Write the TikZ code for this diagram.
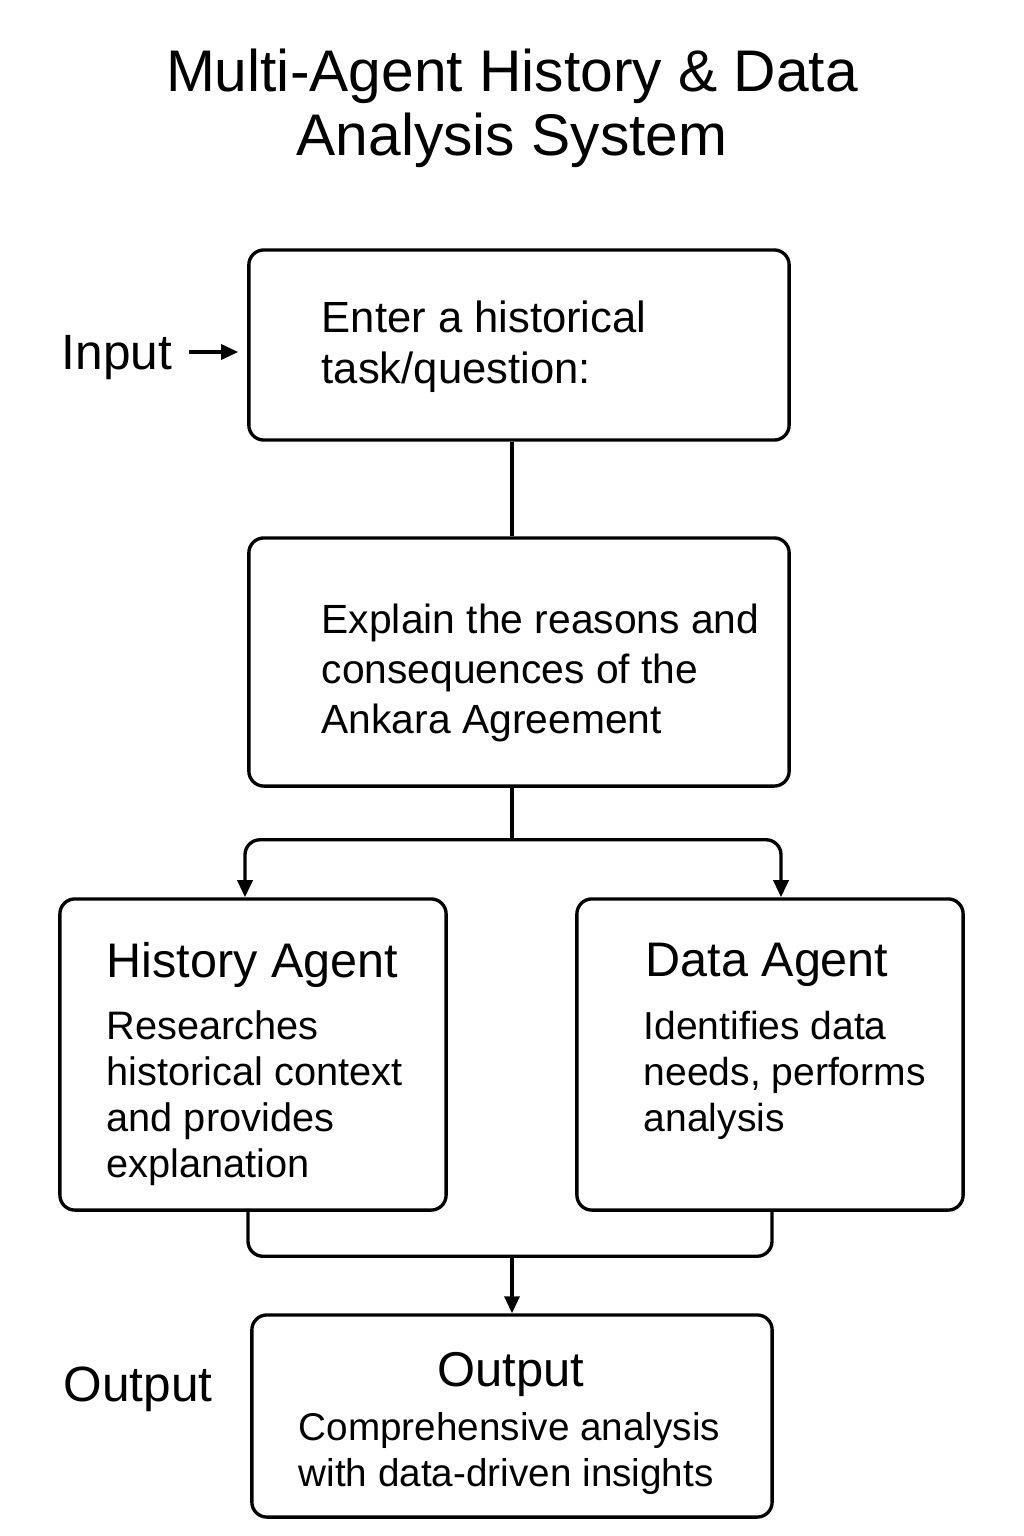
\documentclass[tikz,border=0pt]{standalone}
\usepackage{fontspec}
\setmainfont{Liberation Sans}
\usetikzlibrary{calc,arrows.meta}
\tikzset{
	box/.style={draw, line width=0.95pt, rounded corners=1.5mm, inner sep=0pt},
	txt/.style={inner sep=0pt, align=left, anchor=north west},
	link/.style={line width=0.95pt, rounded corners=1.5mm},
	arrow/.style={link, -{Triangle[length=1.7mm, width=1.5mm]}}
}
\newcommand{\fsize}[2]{\fontsize{#1}{#2}\selectfont}

\begin{document}
\begin{tikzpicture}[x=0.01cm, y=-0.01cm]
		%%%%% START %%%%%
		\useasboundingbox (0, 0) rectangle (1024, 1536);
		
		\node[inner sep=0pt, align=center, anchor=north, font=\fsize{16.7}{18.2}] (title) at (512, 48) {Multi-Agent History \& Data\\Analysis System};
		
		\node[box, minimum width=5.4cm, minimum height=1.9cm] (task) at (519, 345) {};
		\node[txt, font=\fsize{12.4}{14.5}] (tasktxt) at (321, 300) {Enter a historical\\task/question:};
		
		\node[inner xsep=0.16cm, inner ysep=0pt, text depth=0pt, font=\fsize{14.1}{16}] (inlabel) at (117, 352) {Input};
		
		\node[box, minimum width=5.4cm, minimum height=2.48cm] (ctx) at (519, 662) {};
		\node[txt, font=\fsize{11.6}{14.2}] (ctxtxt) at (321, 603) {Explain the reasons and\\consequences of the\\Ankara Agreement};
		
		\node[box, minimum width=3.86cm, minimum height=3.11cm] (hist) at (253, 1054.5) {};
		\node[txt, font=\fsize{13.8}{16}] (histhead) at (106, 942) {History Agent};
		\node[txt, font=\fsize{11.3}{13.1}] (histtxt) at (106, 1010) {Researches\\historical context\\and provides\\explanation};
		
		\node[box, minimum width=3.86cm, minimum height=3.11cm] (data) at (770, 1054.5) {};
		\node[txt, font=\fsize{13.8}{16}] (datahead) at (645, 942) {Data Agent};
		\node[txt, font=\fsize{11.1}{13.1}] (datatxt) at (643, 1010) {Identifies data\\needs, performs\\analysis};
		
		\node[box, minimum width=5.2cm, minimum height=2.02cm] (out) at (512, 1416) {};
		\node[inner sep=0pt, anchor=north, font=\fsize{13.9}{16}] (outhead) at (511, 1352) {Output};
		\node[txt, font=\fsize{11}{13.1}] (outtxt) at (298, 1412) {Comprehensive analysis\\with data-driven insights};
		
		\node[inner sep=0pt, text depth=0pt, font=\fsize{14.1}{16}] (outlabel) at (138, 1384) {Output};
		
		% connectors
		\coordinate (split) at ($(ctx.south -| out.north)+(0, 52)$);
		\coordinate (merge) at ($(out.north)+(0, -57)$);
		
		\draw[arrow] (inlabel.east) -- ([xshift=-0.09cm]inlabel.east -| task.west);
		\draw[link] (task.south -| split) -- (ctx.north -| split);
		\draw[link] (ctx.south -| split) -- (split);
		\draw[arrow] (split) -| ([xshift=-0.08cm]hist.north);
		\draw[arrow] (split) -| ([xshift=0.11cm]data.north);
		\draw[link] ([xshift=-0.05cm]hist.south) |- (merge) -| ([xshift=0.02cm]data.south);
		\draw[arrow] (merge) -- (out.north);
		
		%%%%% END %%%%%
\end{tikzpicture}
\end{document}
